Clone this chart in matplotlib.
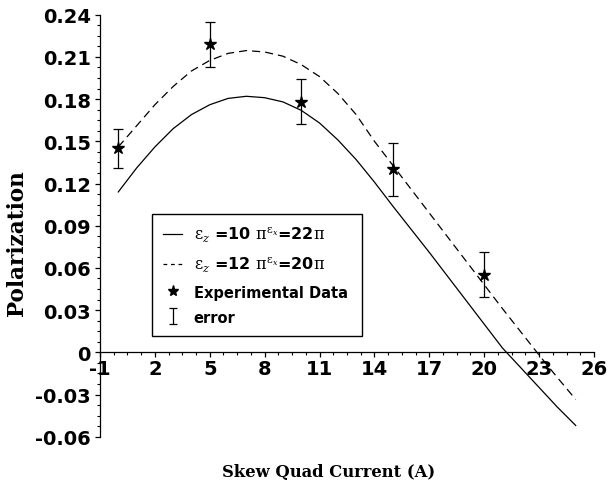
import numpy as np
import matplotlib
matplotlib.use("Agg")
import matplotlib.pyplot as plt
from matplotlib.lines import Line2D
from matplotlib.ticker import FixedLocator, MultipleLocator, FuncFormatter

# Model curves (skew quad current in A)
x_curve = [0, 1, 2, 3, 4, 5, 6, 7, 8, 9, 10, 11, 12,
           13, 14, 15, 16, 17, 18, 19, 20, 21, 22, 23, 24, 25]
pol_10_22 = [0.114, 0.131, 0.146, 0.159, 0.169, 0.176, 0.1805, 0.182, 0.181,
             0.178, 0.172, 0.163, 0.151, 0.137, 0.121, 0.104, 0.0875, 0.071,
             0.054, 0.037, 0.020, 0.003, -0.011, -0.025, -0.039, -0.052]
pol_12_20 = [0.146, 0.161, 0.176, 0.189, 0.200, 0.2075, 0.2125, 0.2145, 0.2135,
             0.2105, 0.2045, 0.196, 0.184, 0.169, 0.150, 0.133, 0.116, 0.099,
             0.082, 0.065, 0.048, 0.031, 0.0145, -0.002, -0.018, -0.0335]

# Measured points
x_data = [0, 5, 10, 15, 20]
pol_data = [0.145, 0.219, 0.178, 0.130, 0.055]
pol_err = [0.014, 0.016, 0.016, 0.019, 0.016]

x_ticks = [-1, 2, 5, 8, 11, 14, 17, 20, 23, 26]
y_ticks = [-0.06, -0.03, 0, 0.03, 0.06, 0.09, 0.12, 0.15, 0.18, 0.21, 0.24]

legend_labels = [r"$\mathrm{\varepsilon}_z$ =10 $\mathrm{\pi}^{\mathrm{\varepsilon}_x}$=22$\mathrm{\pi}$",
                 r"$\mathrm{\varepsilon}_z$ =12 $\mathrm{\pi}^{\mathrm{\varepsilon}_x}$=20$\mathrm{\pi}$",
                 "Experimental Data",
                 "error"]


def main():
    plt.rcParams["axes.unicode_minus"] = False
    plt.rcParams["mathtext.fontset"] = "dejavuserif"

    fig = plt.figure(figsize=(6.07, 4.85), dpi=100)
    ax = fig.add_axes([100 / 607, 1 - 437.7 / 485, 494 / 607, 422 / 485])

    ax.plot(x_curve, pol_10_22, "k-", lw=0.9)
    ax.plot(x_curve, pol_12_20, "k", lw=0.9, dashes=(6.5, 4))
    ax.errorbar(x_data, pol_data, yerr=pol_err, fmt="none", ecolor="k",
                elinewidth=0.9, capsize=3.5, capthick=0.9)
    ax.plot(x_data, pol_data, "k*", ms=9)

    ax.set_xlim(-1, 26)
    ax.set_ylim(-0.06, 0.24)

    # axes like the original: y axis at x=-1, x axis through zero
    ax.spines["top"].set_visible(False)
    ax.spines["right"].set_visible(False)
    ax.spines["bottom"].set_position(("data", 0))
    for s in ("left", "bottom"):
        ax.spines[s].set_linewidth(0.9)

    ax.xaxis.set_major_locator(FixedLocator(x_ticks))
    ax.xaxis.set_minor_locator(FixedLocator(np.arange(-1, 26.01, 0.75)))
    ax.yaxis.set_major_locator(FixedLocator(y_ticks))
    ax.yaxis.set_minor_locator(MultipleLocator(0.0075))
    ax.yaxis.set_major_formatter(FuncFormatter(lambda v, p: "0" if abs(v) < 1e-9 else f"{v:.2f}"))

    ax.tick_params(axis="x", which="major", length=3.5, width=0.9, pad=1)
    ax.tick_params(axis="x", which="minor", length=2, width=0.8)
    ax.tick_params(axis="y", which="major", length=3.5, width=0.9, pad=3)
    ax.tick_params(axis="y", which="minor", length=2, width=0.8)
    for lab in ax.get_xticklabels() + ax.get_yticklabels():
        lab.set_fontfamily("DejaVu Sans")
        lab.set_fontweight("bold")
        lab.set_fontsize(14)

    ax.set_xlabel("Skew Quad Current (A)", fontfamily="DejaVu Serif",
                  fontweight="bold", fontsize=11.8)
    ax.xaxis.set_label_coords(0.4636, -0.062)
    ax.set_ylabel("Polarization", fontfamily="DejaVu Serif",
                  fontweight="bold", fontsize=15.5)
    ax.yaxis.set_label_coords(-0.146, 0.461)

    # legend with hand-made handles
    eb = ax.errorbar([np.nan], [np.nan], yerr=[1], fmt="none", ecolor="k",
                     elinewidth=0.9, capsize=3, capthick=0.9)
    handles = [Line2D([], [], color="k", lw=0.9),
               Line2D([], [], color="k", lw=0.9, dashes=(3, 3)),
               Line2D([], [], color="k", marker="*", ls="none", ms=8),
               eb]
    leg = ax.legend(handles, legend_labels, loc="upper left",
                    bbox_to_anchor=(152 / 607, 1 - 338 / 485, 210 / 607, 123 / 485),
                    bbox_transform=fig.transFigure, mode="expand",
                    borderaxespad=0, fancybox=False, framealpha=1,
                    handlelength=1.2, handletextpad=0.7, labelspacing=0.65,
                    borderpad=0.7,
                    prop={"family": "DejaVu Sans", "weight": "bold", "size": 11.5})
    for t in leg.get_texts()[2:]:
        t.set_fontsize(10.5)
    leg.get_frame().set_edgecolor("k")
    leg.get_frame().set_linewidth(1.0)

    fig.savefig("out.png", dpi=100)


if __name__ == "__main__":
    main()
